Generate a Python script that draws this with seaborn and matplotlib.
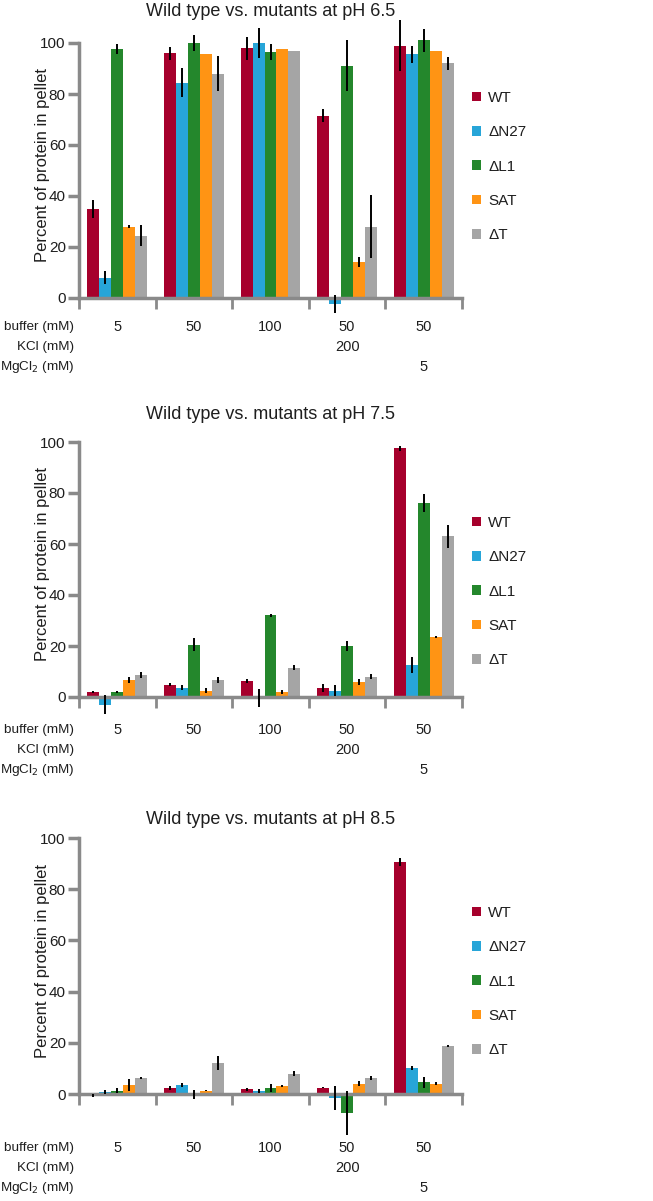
import numpy as np
import pandas as pd
import matplotlib.pyplot as plt
import matplotlib.transforms as mtransforms
import seaborn as sns

# === Data ===
mutants = ["WT", "ΔN27", "ΔL1", "SAT", "ΔT"]
colors = ["#A6002C", "#27A5D8", "#24872C", "#FF9414", "#A5A5A5"]
conditions = ["5 buffer", "50 buffer", "100 buffer", "50 buffer + 200 KCl", "50 buffer + 5 MgCl2"]
buffer_mM = ["5", "50", "100", "50", "50"]
kcl_mM = ["", "", "", "200", ""]
mgcl2_mM = ["", "", "", "", "5"]

# rows = mutants, columns = conditions
ph65_mean = [[35, 96, 98, 71.5, 99],
             [8, 84.5, 100, -2.5, 95.5],
             [97.5, 100, 96.5, 91, 101],
             [28, 95.5, 97.5, 14, 97],
             [24.5, 88, 97, 28, 92]]
ph65_err = [[3.5, 2.5, 4.5, 2.5, 10],
            [2.5, 5.5, 6, 3.5, 3.5],
            [2, 3, 3, 10, 4.5],
            [0.5, 0, 0, 2, 0],
            [4, 7, 0, 12.5, 2.5]]

ph75_mean = [[2, 4.8, 6.3, 3.5, 97.5],
             [-3, 3.7, -0.5, 2.5, 12.5],
             [2, 20.5, 32, 20, 76],
             [6.5, 2.5, 2, 6, 23.5],
             [8.5, 6.5, 11.5, 8, 63]]
ph75_err = [[0.5, 0.5, 0.8, 1.5, 1],
            [3.8, 1, 3.5, 2.3, 3],
            [0.3, 2.5, 0.5, 2, 3.5],
            [1.2, 1, 0.7, 1.2, 0.5],
            [1.2, 1.2, 1, 1, 4.5]]

ph85_mean = [[-0.5, 2.5, 1.8, 2.5, 90.5],
             [0.9, 3.6, 1.2, -1.5, 10],
             [1.3, -0.2, 2.3, -7.5, 4.5],
             [3.5, 1.3, 3, 4.1, 4],
             [6.2, 12.1, 8, 6.2, 18.7]]
ph85_err = [[0.5, 0.8, 0.6, 0.3, 1.5],
            [0.8, 0.8, 0.8, 4.6, 0.8],
            [1, 1.7, 1.5, 8.5, 2.2],
            [2.2, 0.3, 0.4, 0.8, 0.6],
            [0.3, 2.8, 1, 0.8, 0.5]]

panels = [
    # title, means, errors, ylim, y px of 0, y px of 100, title px, legend px, table px
    ("Wild type vs. mutants at pH 6.5", ph65_mean, ph65_err, (-10, 110), 298, 43, 12, 98, 327),
    ("Wild type vs. mutants at pH 7.5", ph75_mean, ph75_err, (-10, 110), 697, 442, 415, 523, 730),
    ("Wild type vs. mutants at pH 8.5", ph85_mean, ph85_err, (-20, 110), 1094, 838, 820, 913, 1148),
]

W, H = 653, 1201
spine_gray = "#8A8A8A"
ink = "#1E1E1E"

sns.set_theme(style="white")
plt.rcParams["font.family"] = ["Liberation Sans", "DejaVu Sans"]

fig = plt.figure(figsize=(W / 100, H / 100), dpi=100)


def fy(px):
    return 1 - px / H


for title, means, errs, ylim, zero_px, hund_px, title_px, leg_px, table_px in panels:
    ppu = (zero_px - hund_px) / 100.0
    top_px = zero_px - ylim[1] * ppu
    bot_px = zero_px - ylim[0] * ppu
    ax = fig.add_axes([79 / W, fy(bot_px), 383 / W, (bot_px - top_px) / H])

    df = pd.DataFrame({
        "condition": np.repeat([conditions], len(mutants), axis=0).ravel(),
        "mutant": np.repeat(mutants, len(conditions)),
        "value": np.ravel(means),
    })

    sns.barplot(data=df, x="condition", y="value", hue="mutant",
                order=conditions, hue_order=mutants, palette=colors,
                errorbar=None, width=0.78, linewidth=0, saturation=1, ax=ax)

    # error bars at bar centres
    bar_sets = list(ax.containers)
    for i, container in enumerate(bar_sets):
        xs = [p.get_x() + p.get_width() / 2 for p in container.patches]
        ax.errorbar(xs, means[i], yerr=errs[i], fmt="none", ecolor="black",
                    elinewidth=1.4, capsize=0, clip_on=False, zorder=5)

    ax.set_xlim(-0.5, len(conditions) - 0.5)
    ax.set_ylim(*ylim)
    ax.set_yticks([0, 20, 40, 60, 80, 100])
    ax.set_xticks(np.arange(len(conditions) + 1) - 0.5)
    ax.set_xticklabels([])
    ax.set_xlabel("")
    ax.set_ylabel("Percent of protein in pellet", fontsize=12, color=ink)
    ax.yaxis.set_label_coords(-0.076, 52,
                              transform=mtransforms.blended_transform_factory(ax.transAxes, ax.transData))
    for s in ["top", "right"]:
        ax.spines[s].set_visible(False)
    ax.spines["left"].set_bounds(0, 100)
    ax.spines["bottom"].set_position(("data", 0))
    for s in ["left", "bottom"]:
        ax.spines[s].set_color(spine_gray)
        ax.spines[s].set_linewidth(2.5)
    ax.tick_params(axis="y", direction="out", length=8, width=2.5, color=spine_gray,
                   labelsize=11, labelcolor=ink, pad=1.5, left=True)
    ax.tick_params(axis="x", direction="out", length=8, width=2, color=spine_gray, bottom=True)
    ax.patch.set_alpha(0)

    fig.text(271 / W, fy(title_px), title, ha="center", va="center",
             fontsize=13, color=ink)

    # legend
    handles, labels = ax.get_legend_handles_labels()
    ax.legend(handles, labels, loc="upper left", bbox_to_anchor=(472 / W, fy(leg_px - 7)),
              bbox_transform=fig.transFigure, frameon=False, fontsize=11,
              handlelength=0.6, handleheight=0.6, handletextpad=0.45, labelspacing=1.33,
              borderaxespad=0, borderpad=0, labelcolor=ink)

    # condition table
    trans = mtransforms.blended_transform_factory(ax.transData, fig.transFigure)
    row_names = ["buffer (mM)", "KCl (mM)", "MgCl$_2$ (mM)"]
    for r, (name, vals) in enumerate(zip(row_names, [buffer_mM, kcl_mM, mgcl2_mM])):
        ypx = table_px + r * 20
        fig.text(74 / W, fy(ypx), name, ha="right", va="center", fontsize=9.7, color=ink)
        for j, v in enumerate(vals):
            if v:
                ax.text(j, fy(ypx), v, transform=trans, ha="center", va="center",
                        fontsize=10.5, color=ink)

plt.savefig("out.png", dpi=100)
